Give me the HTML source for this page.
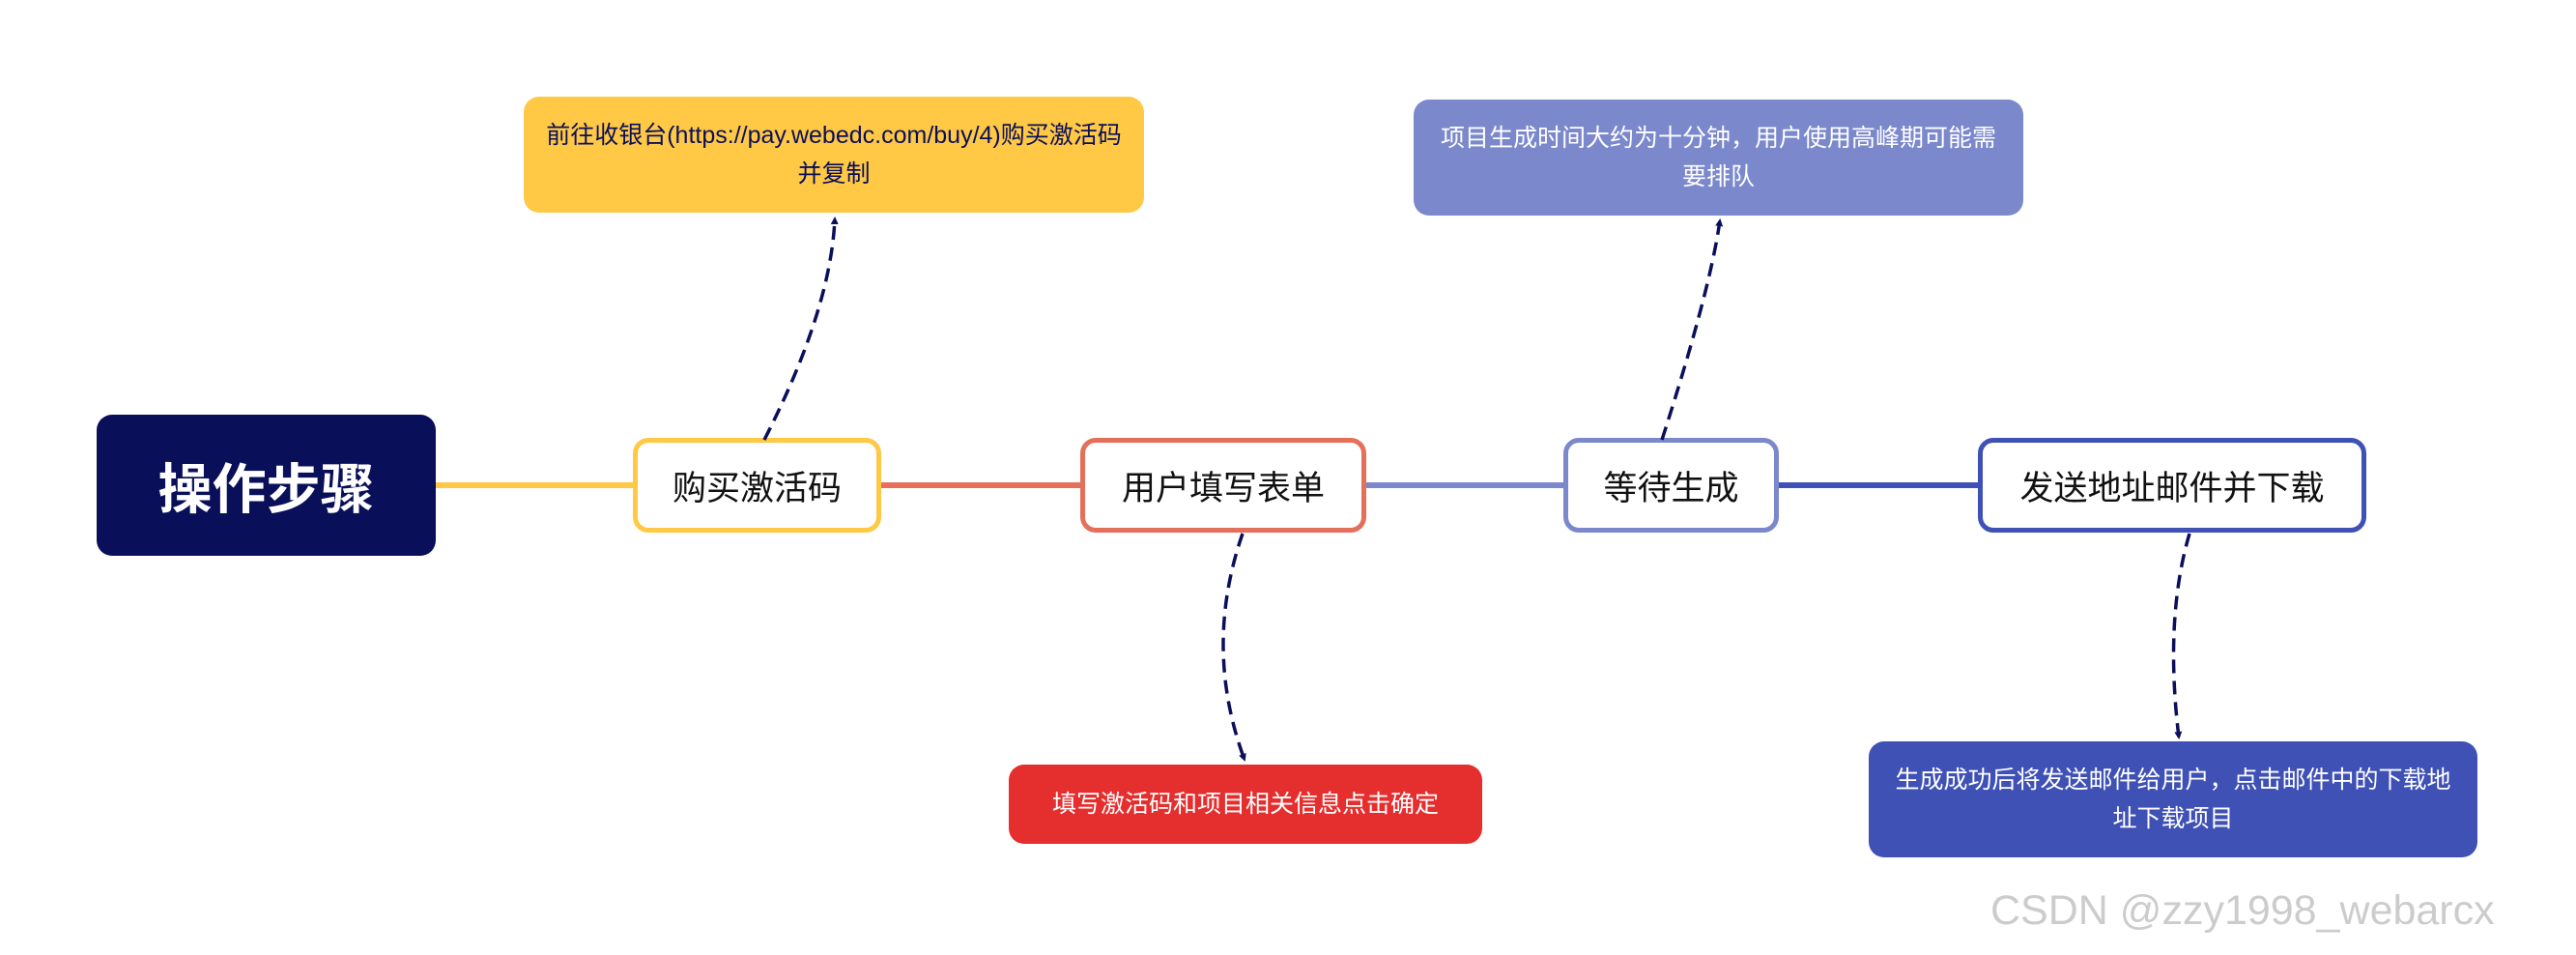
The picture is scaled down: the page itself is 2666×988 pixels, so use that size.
<!DOCTYPE html>
<html><head><meta charset="utf-8"><style>
body{margin:0;width:2666px;height:988px;background:#fff;position:relative;overflow:hidden;font-family:"Liberation Sans","Noto Sans CJK SC",sans-serif}
.b{position:absolute;box-sizing:border-box;display:flex;align-items:center;justify-content:center;text-align:center;border-radius:16px}
.n{background:#fff;border:5px solid;font-size:35px;color:#111}
.t{font-size:25px;line-height:40px;padding:0 20px}
.l{position:absolute;height:6px;top:499px}
</style></head><body>
<div class="l" style="left:451px;width:204px;background:#FFC845"></div>
<div class="l" style="left:912px;width:206px;background:#E5705A"></div>
<div class="l" style="left:1414px;width:204px;background:#7B88CC"></div>
<div class="l" style="left:1841px;width:206px;background:#3F51B5"></div>
<div class="b" style="left:100px;top:429px;width:351px;height:146px;background:#0A0F5A;color:#fff;font-size:56px;font-weight:bold">操作步骤</div>
<div class="b n" style="left:655px;top:453px;width:257px;height:98px;border-color:#FFC845">购买激活码</div>
<div class="b n" style="left:1118px;top:453px;width:296px;height:98px;border-color:#E5705A">用户填写表单</div>
<div class="b n" style="left:1618px;top:453px;width:223px;height:98px;border-color:#7B88CC">等待生成</div>
<div class="b n" style="left:2047px;top:453px;width:402px;height:98px;border-color:#3F51B5">发送地址邮件并下载</div>
<div class="b t" style="left:542px;top:100px;width:642px;height:120px;background:#FFC845;color:#0A0F5A">前往收银台(https://pay.webedc.com/buy/4)购买激活码并复制</div>
<div class="b t" style="left:1463px;top:103px;width:631px;height:120px;background:#7B88CC;color:#fff">项目生成时间大约为十分钟，用户使用高峰期可能需要排队</div>
<div class="b t" style="left:1044px;top:791px;width:490px;height:82px;background:#E52E2E;color:#fff">填写激活码和项目相关信息点击确定</div>
<div class="b t" style="left:1934px;top:767px;width:630px;height:120px;background:#3F51B5;color:#fff">生成成功后将发送邮件给用户，点击邮件中的下载地址下载项目</div>
<svg width="2666" height="988" style="position:absolute;left:0;top:0">
<defs><marker id="a" markerWidth="8" markerHeight="8" refX="6" refY="4" orient="auto" markerUnits="userSpaceOnUse" viewBox="0 0 8 8"><path d="M0,0L8,4L0,8z" fill="#0A0F5A"/></marker></defs>
<g fill="none" stroke="#0A0F5A" stroke-width="3.5" stroke-dasharray="14,8" marker-end="url(#a)">
<path d="M791,455 Q860,320 864,226"/>
<path d="M1720,455 Q1770,300 1780,228"/>
<path d="M1286,552 Q1245,670 1288,786"/>
<path d="M2266,552 Q2240,640 2255,763"/>
</g></svg>
<div style="position:absolute;left:2060px;top:918px;font-size:43px;color:#ccc;letter-spacing:0px">CSDN @zzy1998_webarcx</div>
</body></html>
